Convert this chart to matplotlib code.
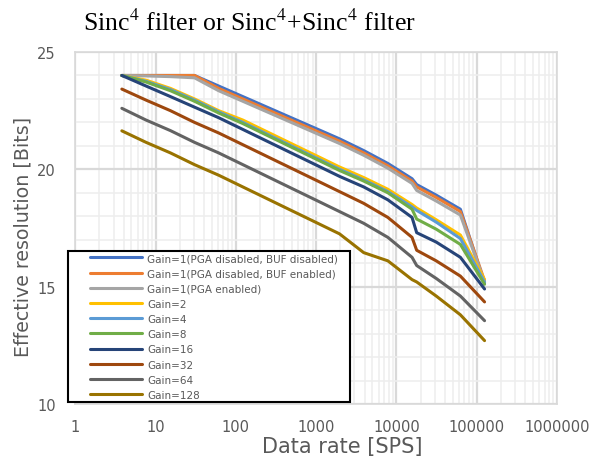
import matplotlib
matplotlib.use('Agg')
import matplotlib.pyplot as plt
from matplotlib.patches import Rectangle
from matplotlib.ticker import FixedLocator, LogLocator, NullFormatter

# data rates [SPS]
rates = [3.8, 7.6, 15.3, 30.5, 61, 122, 244, 488, 977, 1953, 3906, 7813,
         15625, 17857, 31250, 62500, 125000]

gain1_pga_dis_buf_dis = [24.0, 24.0, 24.0, 24.0, 23.55, 23.1, 22.65, 22.2, 21.75, 21.3,
                         20.8, 20.25, 19.6, 19.35, 18.9, 18.3, 15.15]
gain1_pga_dis_buf_en = [24.0, 24.0, 24.0, 24.0, 23.45, 23.0, 22.55, 22.1, 21.65, 21.2,
                        20.7, 20.15, 19.5, 19.25, 18.8, 18.2, 15.25]
gain1_pga_en = [24.0, 23.98, 23.95, 23.9, 23.35, 22.9, 22.45, 22.0, 21.55, 21.1,
                20.6, 20.05, 19.4, 19.1, 18.65, 18.05, 15.2]
gain2 = [24.0, 23.8, 23.45, 23.0, 22.5, 22.1, 21.6, 21.1, 20.6, 20.1,
         19.65, 19.15, 18.5, 18.35, 17.85, 17.2, 15.3]
gain4 = [24.0, 23.75, 23.4, 22.95, 22.45, 22.0, 21.5, 21.0, 20.5, 20.0,
         19.55, 19.05, 18.4, 18.25, 17.75, 17.05, 15.2]
gain8 = [24.0, 23.72, 23.35, 22.9, 22.4, 21.95, 21.45, 20.95, 20.45, 19.95,
         19.5, 19.0, 18.3, 17.88, 17.45, 16.8, 15.1]
gain16 = [24.0, 23.55, 23.1, 22.65, 22.2, 21.7, 21.2, 20.7, 20.2, 19.7,
          19.25, 18.7, 17.95, 17.3, 16.9, 16.25, 14.9]
gain32 = [23.42, 22.95, 22.5, 22.0, 21.55, 21.05, 20.55, 20.05, 19.55, 19.05,
          18.55, 17.95, 17.1, 16.55, 16.1, 15.45, 14.35]
gain64 = [22.6, 22.1, 21.65, 21.15, 20.7, 20.2, 19.7, 19.2, 18.7, 18.2,
          17.7, 17.1, 16.25, 15.9, 15.35, 14.6, 13.55]
gain128 = [21.64, 21.15, 20.7, 20.2, 19.75, 19.25, 18.75, 18.25, 17.75, 17.25,
           16.45, 16.1, 15.3, 15.2, 14.6, 13.8, 12.7]

labels = ['Gain=1(PGA disabled, BUF disabled)', 'Gain=1(PGA disabled, BUF enabled)',
          'Gain=1(PGA enabled)', 'Gain=2', 'Gain=4', 'Gain=8', 'Gain=16',
          'Gain=32', 'Gain=64', 'Gain=128']
series = [gain1_pga_dis_buf_dis, gain1_pga_dis_buf_en, gain1_pga_en, gain2, gain4,
          gain8, gain16, gain32, gain64, gain128]
colors = ['#4472C4', '#ED7D31', '#A5A5A5', '#FFC000', '#5B9BD5', '#70AD47',
          '#264478', '#9E480E', '#636363', '#997300']

xticks = [1, 10, 100, 1000, 10000, 100000, 1000000]
yticks = [10, 15, 20, 25]

text_color = '#595959'
plt.rcParams['mathtext.fontset'] = 'stix'

fig = plt.figure(figsize=(5.99, 4.60), dpi=100)
ax = fig.add_axes([0.1257, 0.1196, 0.8043, 0.7652])

for vals, lab, col in zip(series, labels, colors):
    ax.plot(rates, vals, color=col, lw=2.2, label=lab, solid_capstyle='round')

ax.set_xscale('log')
ax.set_xlim(1, 1000000)
ax.set_ylim(10, 25)
ax.xaxis.set_major_locator(FixedLocator(xticks))
ax.set_xticks(xticks)
ax.set_xticklabels([str(t) for t in xticks])
ax.xaxis.set_minor_locator(LogLocator(base=10, subs=range(2, 10), numticks=20))
ax.xaxis.set_minor_formatter(NullFormatter())
ax.set_yticks(yticks)
ax.set_yticks(range(10, 26), minor=True)

ax.grid(True, which='major', color='#D9D9D9', lw=1.6)
ax.grid(True, which='minor', color='#EEEEEE', lw=1.1)
ax.set_axisbelow(True)
for s in ax.spines.values():
    s.set_color('#D9D9D9')
    s.set_linewidth(1.2)
ax.tick_params(which='both', length=0, colors=text_color, labelsize=10.5)
ax.tick_params(axis='x', pad=11)
ax.tick_params(axis='y', pad=14)

ax.set_xlabel('Data rate [SPS]', fontsize=15, color=text_color)
ax.set_ylabel('Effective resolution [Bits]', fontsize=13.7, color=text_color)
ax.xaxis.set_label_coords((342 - 75.3) / (0.8043 * 599), -(437 - 405) / (0.7652 * 460))
ax.yaxis.set_label_coords(-(75.3 - 33) / (0.8043 * 599), (405 - 237) / (0.7652 * 460))

fig.text(83 / 599, 1 - 23 / 460, 'Sinc$^4$ filter or Sinc$^4$+Sinc$^4$ filter',
         ha='left', va='center', fontsize=18.5, family='Liberation Serif', color='black')

# legend box
box = Rectangle((67.5 / 599, 1 - 402.5 / 460), (350 - 67.5) / 599, (402.5 - 251.5) / 460,
                transform=fig.transFigure, facecolor='white', edgecolor='black',
                lw=1.5, zorder=4)
fig.patches.append(box)
handles, labs = ax.get_legend_handles_labels()
leg = fig.legend(handles, labs, loc='upper left', bbox_to_anchor=(88 / 599, 1 - 252 / 460),
                 frameon=False, fontsize=7.5, handlelength=5.0, handletextpad=0.5,
                 labelspacing=0.5, borderpad=0.2, borderaxespad=0)
leg.set_zorder(5)
for t in leg.get_texts():
    t.set_color(text_color)

fig.savefig('out.png', dpi=100)
